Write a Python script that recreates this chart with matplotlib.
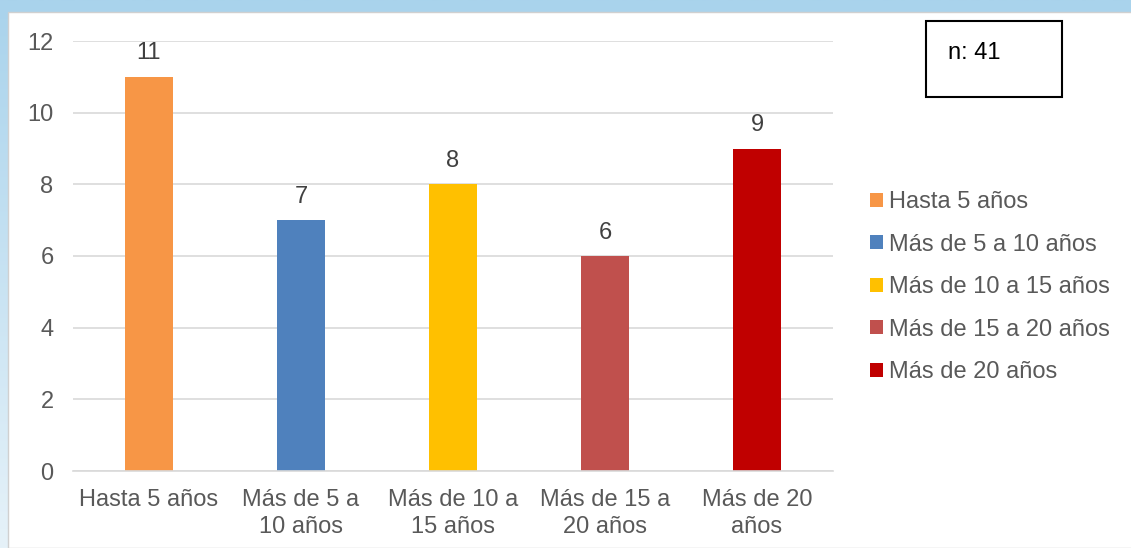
import numpy as np
import matplotlib
matplotlib.use("Agg")
import matplotlib.pyplot as plt
from matplotlib.patches import Rectangle

# ---------------------------------------------------------------- datos
categorias = ["Hasta 5 años", "Más de 5 a 10 años", "Más de 10 a 15 años",
              "Más de 15 a 20 años", "Más de 20 años"]
etiquetas_x = ["Hasta 5 años", "Más de 5 a\n10 años", "Más de 10 a\n15 años",
               "Más de 15 a\n20 años", "Más de 20\naños"]
valores = [11, 7, 8, 6, 9]
colores = ["#F79646", "#4F81BD", "#FFC000", "#C0504D", "#C00000"]
total_n = 41

plt.rcParams["font.family"] = ["Liberation Sans", "DejaVu Sans"]
GRIS = "#595959"
FS = 17

W, H = 1131, 548
fig = plt.figure(figsize=(W / 100, H / 100), dpi=100)

# fondo azul claro (degradado) + area blanca del grafico
bg = fig.add_axes([0, 0, 1, 1], zorder=-10)
grad = np.linspace(0, 1, 256)[:, None]
bg.imshow(grad, aspect="auto", extent=[0, 1, 0, 1],
          cmap=matplotlib.colors.LinearSegmentedColormap.from_list(
              "fondo", ["#e6f2f9", "#a9d3ec"]), origin="lower")
bg.add_patch(Rectangle((8 / W, 0), 1, 1 - 12 / H, facecolor="white",
                       edgecolor="#d0d0d0", lw=1))
bg.set_xlim(0, 1); bg.set_ylim(0, 1)
bg.axis("off")

ax = fig.add_axes([73 / W, 1 - 471 / H, 760 / W, 430 / H])
x = np.arange(len(valores))
barras = ax.bar(x, valores, width=0.316, color=colores, zorder=2,
                label=categorias)
for b, v in zip(barras, valores):
    ax.annotate(str(v), (b.get_x() + b.get_width() / 2, v),
                xytext=(0, 12.5), textcoords="offset points",
                ha="center", va="baseline", fontsize=FS, color="#404040")

ax.set_xlim(-0.5, len(valores) - 0.5)
ax.set_ylim(0, 12)
ax.set_yticks(range(0, 13, 2))
ax.set_xticks(x, etiquetas_x)
ax.grid(axis="y", color="#d9d9d9", lw=1.2, zorder=0)
for s in ["top", "right", "left"]:
    ax.spines[s].set_visible(False)
ax.spines["bottom"].set_color("#d9d9d9")
ax.spines["bottom"].set_linewidth(1.2)
ax.tick_params(length=0, labelsize=FS, colors=GRIS)
ax.tick_params(axis="y", pad=14)
ax.tick_params(axis="x", pad=13)
for t in ax.get_xticklabels():
    t.set_linespacing(1.3)

# leyenda
fig.legend(handles=list(barras), labels=categorias, loc="upper left",
           bbox_to_anchor=(870 / W, 1 - 191 / H), frameon=False,
           fontsize=FS, labelcolor=GRIS, handlelength=0.55,
           handleheight=0.55, handletextpad=0.25, labelspacing=0.87,
           borderpad=0, borderaxespad=0)

# recuadro n
bg.add_patch(Rectangle((926 / W, 1 - 97 / H), 136 / W, 76 / H,
                       facecolor="white", edgecolor="black", lw=1.5))
fig.text(948 / W, 1 - 59 / H, f"n: {total_n}", fontsize=FS, color="black",
         ha="left", va="baseline")

fig.savefig("out.png", dpi=100)
